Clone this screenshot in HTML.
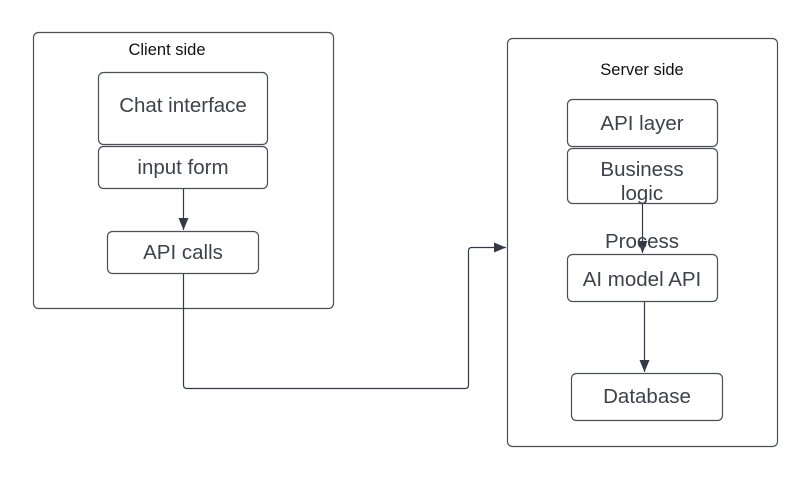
<!DOCTYPE html>
<html><head><style>
body{margin:0;background:#fff;width:806px;height:486px;overflow:hidden;font-family:"Liberation Sans",sans-serif}
</style></head><body>
<svg width="806" height="486" xmlns="http://www.w3.org/2000/svg" font-family="Liberation Sans, sans-serif">
<defs><marker id="a" markerWidth="12" markerHeight="12" refX="12" refY="5" orient="auto" markerUnits="userSpaceOnUse"><path d="M0,0 L12,5 L0,10 z" fill="#333a45"/></marker></defs>
<g fill="none" stroke="#4a4e55" stroke-width="1.2">
<rect x="33.5" y="32.5" width="300" height="276" rx="5"/>
<rect x="507.5" y="38.5" width="270" height="408" rx="5"/>
<rect x="98.5" y="72.5" width="169" height="72" rx="5"/>
<rect x="98.5" y="146.5" width="169" height="42" rx="5"/>
<rect x="107.5" y="231.5" width="151" height="42" rx="5"/>
<rect x="567.5" y="99.5" width="150" height="47" rx="5"/>
<rect x="567.5" y="148.5" width="150" height="55" rx="5"/>
<rect x="567.5" y="254.5" width="150" height="47" rx="5"/>
<rect x="571.5" y="373.5" width="151" height="47" rx="5"/>
</g>
<g fill="none" stroke="#333a45" stroke-width="1.2">
<line x1="183.5" y1="189" x2="183.5" y2="230" marker-end="url(#a)"/>
<path d="M183.5,274 V385 Q183.5,388.5 187,388.5 H465 Q468.5,388.5 468.5,385 V251 Q468.5,247.5 472,247.5 H506" marker-end="url(#a)"/>
<line x1="642.5" y1="204" x2="642.5" y2="253" marker-end="url(#a)"/>
<line x1="644.5" y1="302" x2="644.5" y2="372" marker-end="url(#a)"/>
</g>
<g fill="#3d424b" font-size="20.5" text-anchor="middle">
<text x="183" y="112">Chat interface</text>
<text x="183" y="174">input form</text>
<text x="183" y="259">API calls</text>
<text x="642" y="130">API layer</text>
<text x="642" y="176">Business</text>
<text x="642" y="200">logic</text>
<text x="642" y="248">Process</text>
<text x="642" y="286">AI model API</text>
<text x="647" y="403">Database</text>
</g>
<g fill="#111" font-size="16.5" text-anchor="middle">
<text x="167" y="55">Client side</text>
<text x="642" y="75">Server side</text>
</g>
</svg>
</body></html>
